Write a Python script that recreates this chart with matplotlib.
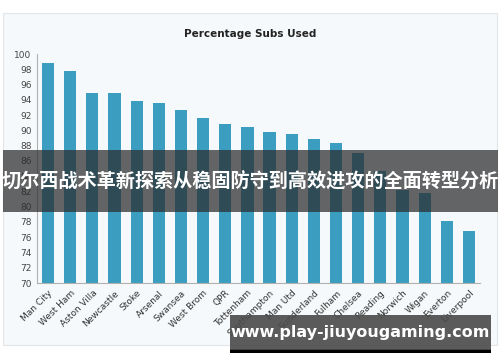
import matplotlib
matplotlib.use("Agg")
import matplotlib.pyplot as plt
from matplotlib.patches import Rectangle

teams = [
    "Man City", "West Ham", "Aston Villa", "Newcastle", "Stoke", "Arsenal",
    "Swansea", "West Brom", "QPR", "Tottenham", "Southampton", "Man Utd",
    "Sunderland", "Fulham", "Chelsea", "Reading", "Norwich", "Wigan",
    "Everton", "Liverpool",
]
subs_used = [
    98.8, 97.8, 94.9, 94.9, 93.9, 93.6, 92.6, 91.6, 90.8, 90.5,
    89.8, 89.5, 88.8, 88.4, 87.0, 84.7, 82.2, 81.8, 78.1, 76.8,
]
y_ticks = list(range(70, 101, 2))

title = "Percentage Subs Used"
banner_text = "切尔西战术革新探索从稳固防守到高效进攻的全面转型分析"
site_text = "www.play-jiuyougaming.com"

W, H = 500, 362
fig = plt.figure(figsize=(W / 100, H / 100), dpi=100)
fig.patch.set_facecolor("white")


def px(x0, y0, x1, y1):
    # pixel box (top-left origin) -> figure fraction rect
    return x0 / W, 1 - y1 / H, (x1 - x0) / W, (y1 - y0) / H


# light chart card behind everything
bx, by, bw, bh = px(3, 13, 497, 345)
fig.patches.append(Rectangle((bx, by), bw, bh, transform=fig.transFigure,
                             facecolor="#f6f9fb", edgecolor="#e2e6e8", linewidth=0.8, zorder=-5))

ax = fig.add_axes(px(37, 54, 480, 283))
ax.set_zorder(1)
ax.set_facecolor("none")
ax.bar(range(len(teams)), subs_used, width=0.55, color="#3b9ec1", zorder=2)
ax.set_xlim(-0.5, len(teams) - 0.5)
ax.set_ylim(70, 100)
ax.set_yticks(y_ticks)
ax.set_yticklabels([str(v) for v in y_ticks], fontsize=6.5, color="#444444")
ax.set_xticks(range(len(teams)))
ax.set_xticklabels(teams, rotation=45, ha="right", va="top", rotation_mode="anchor",
                   fontsize=6.5, color="#333333")
ax.tick_params(length=0, pad=4)
for side in ("top", "right"):
    ax.spines[side].set_visible(False)
for side in ("left", "bottom"):
    ax.spines[side].set_color("#b0b0b0")
    ax.spines[side].set_linewidth(0.8)

fig.text(250 / W, 1 - 34 / H, title, ha="center", va="center",
         fontsize=7.5, fontweight="bold", color="#222222")

# dark banner across the middle
rx, ry, rw, rh = px(3, 150, 498, 212)
fig.patches.append(Rectangle((rx, ry), rw, rh, transform=fig.transFigure,
                             facecolor="#2b2b2b", alpha=0.72, edgecolor="none", zorder=5))
fig.text(250 / W, 1 - 182 / H, banner_text, ha="center", va="center",
         fontsize=13.8, fontweight="bold", color="white",
         family=["Noto Sans CJK SC", "DejaVu Sans"], zorder=6)

# site label box
sx, sy, sw, sh = px(230, 349, 491, 353)
fig.patches.append(Rectangle((sx, sy), sw, sh, transform=fig.transFigure,
                             facecolor="black", edgecolor="none", zorder=5))
sx, sy, sw, sh = px(230, 315, 491, 350)
fig.patches.append(Rectangle((sx, sy), sw, sh, transform=fig.transFigure,
                             facecolor="#4a4a4a", alpha=0.9, edgecolor="none", zorder=5))
fig.text(360 / W, 1 - 333 / H, site_text, ha="center", va="center",
         fontsize=11.5, fontweight="bold", color="white", zorder=6)

fig.savefig("out.png", dpi=100)
